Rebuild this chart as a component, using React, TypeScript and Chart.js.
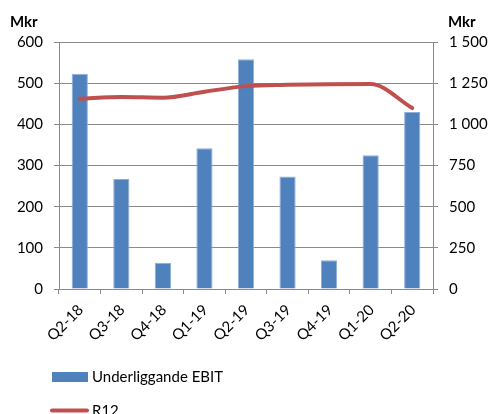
import React, { useEffect, useRef } from "react";
import { Chart, registerables } from "chart.js";

Chart.register(...registerables);

const categories = ["Q2-18", "Q3-18", "Q4-18", "Q1-19", "Q2-19", "Q3-19", "Q4-19", "Q1-20", "Q2-20"];
const ebitValues = [523, 267, 64, 342, 558, 273, 70, 325, 430];
const r12Values = [1155, 1166, 1162, 1198, 1232, 1240, 1244, 1245, 1099];
const leftAxis = { min: 0, max: 600, step: 100 };
const rightAxis = { min: 0, max: 1500, step: 250 };
const unitLabel = "Mkr";
const seriesNames = ["Underliggande EBIT", "R12"];

const FONT = "Lato";
const GRID = "#8a8a8a";
const BAR = "#4F81BD";
const LINE = "#C0504D";

const fmt = (v: number) => {
  const s = String(Math.round(v));
  return s.replace(/\B(?=(\d{3})+(?!\d))/g, " ");
};

const overlayPlugin = {
  id: "overlay",
  afterDraw(chart: any) {
    const ctx = chart.ctx;
    ctx.save();
    ctx.fillStyle = "#000";
    ctx.font = `bold 15px ${FONT}`;
    ctx.textBaseline = "alphabetic";
    ctx.textAlign = "left";
    ctx.fillText(unitLabel, 10, 27);
    ctx.fillText(unitLabel, 448, 27);

    // legend
    ctx.fillStyle = BAR;
    ctx.fillRect(52, 372, 36, 10);
    ctx.fillStyle = "#000";
    ctx.font = `15px ${FONT}`;
    ctx.textBaseline = "middle";
    ctx.fillText(seriesNames[0], 92, 377);
    ctx.strokeStyle = LINE;
    ctx.lineWidth = 4;
    ctx.lineCap = "round";
    ctx.beginPath();
    ctx.moveTo(52, 410.5);
    ctx.lineTo(87, 410.5);
    ctx.stroke();
    ctx.fillText(seriesNames[1], 92, 411);
    ctx.restore();
  },
};

export default function App() {
  const ref = useRef<HTMLCanvasElement>(null);
  useEffect(() => {
    document.body.style.margin = "0";
    const chart = new Chart(ref.current!, {
      type: "bar",
      data: {
        labels: categories,
        datasets: [
          {
            type: "line",
            label: seriesNames[1],
            data: r12Values,
            yAxisID: "y1",
            borderColor: LINE,
            backgroundColor: LINE,
            borderWidth: 4,
            pointRadius: 0,
            cubicInterpolationMode: "monotone",
            borderCapStyle: "round",
            order: 0,
          } as any,
          {
            type: "bar",
            label: seriesNames[0],
            data: ebitValues,
            yAxisID: "y",
            backgroundColor: BAR,
            borderColor: "#8FAEDA",
            borderWidth: 1,
            categoryPercentage: 1,
            barPercentage: 0.39,
            order: 1,
          },
        ],
      },
      options: {
        animation: false,
        responsive: false,
        devicePixelRatio: 1,
        layout: { padding: { top: 42, bottom: 65, left: 0, right: 0 } },
        plugins: { legend: { display: false }, tooltip: { enabled: false } },
        scales: {
          x: {
            grid: { offset: true, drawOnChartArea: false, tickLength: 5, color: GRID },
            border: { color: GRID },
            ticks: { minRotation: 45, maxRotation: 45, padding: 7, labelOffset: 1, color: "#000", font: { family: FONT, size: 15 } },
            afterFit: (s: any) => { s.height = 60; },
          },
          y: {
            position: "left",
            min: leftAxis.min,
            max: leftAxis.max,
            ticks: { stepSize: leftAxis.step, padding: 11, color: "#000", font: { family: FONT, size: 15 } },
            grid: { color: GRID, tickLength: 5 },
            border: { color: GRID },
            afterFit: (s: any) => { s.width = 59; },
          },
          y1: {
            position: "right",
            min: rightAxis.min,
            max: rightAxis.max,
            ticks: { stepSize: rightAxis.step, padding: 11, color: "#000", font: { family: FONT, size: 15 }, callback: (v: any) => fmt(Number(v)) },
            grid: { drawOnChartArea: false, color: GRID, tickLength: 5 },
            border: { color: GRID },
            afterFit: (s: any) => { s.width = 55; },
          },
        },
      },
      plugins: [overlayPlugin],
    });
    return () => chart.destroy();
  }, []);
  return <canvas ref={ref} width={488} height={414} style={{ display: "block" }} />;
}
